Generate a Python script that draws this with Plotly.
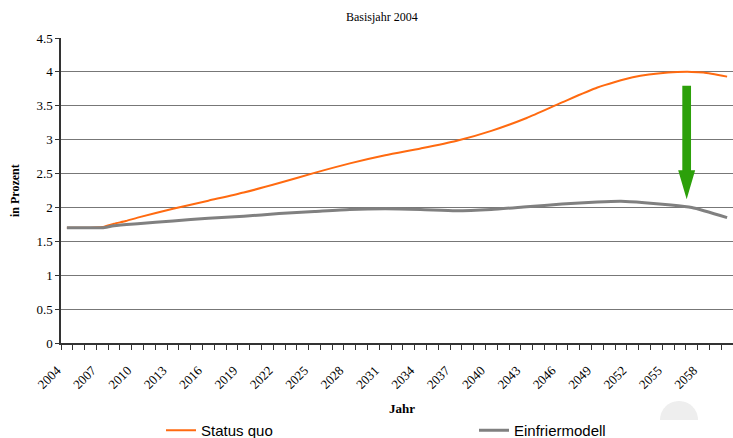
import numpy as np
import plotly.graph_objects as go

years_sq = [2004, 2006, 2007, 2008, 2009, 2010, 2013, 2016, 2019, 2022, 2025, 2028, 2031, 2034, 2037,
            2040, 2043, 2046, 2049, 2052, 2055, 2057, 2058, 2060]
status_quo = [1.70, 1.70, 1.71, 1.76, 1.80, 1.85, 1.98, 2.10, 2.22, 2.36, 2.51, 2.65, 2.77, 2.87, 2.98,
              3.13, 3.32, 3.55, 3.77, 3.92, 3.99, 4.00, 3.99, 3.93]
years_ef = [2004, 2006, 2007, 2008, 2010, 2013, 2016, 2019, 2022, 2025, 2028, 2031, 2034, 2037,
            2040, 2043, 2046, 2049, 2051, 2053, 2055, 2057, 2060]
einfrier = [1.70, 1.70, 1.70, 1.73, 1.76, 1.80, 1.84, 1.87, 1.91, 1.94, 1.97, 1.98, 1.97, 1.95,
            1.97, 2.01, 2.05, 2.08, 2.09, 2.07, 2.04, 2.00, 1.85]
tick_years = list(range(2004, 2059, 3))

serif = "Liberation Serif"
fig = go.Figure()
fig.add_trace(go.Scatter(x=years_sq, y=status_quo, mode="lines", name="Status quo", legend="legend",
                         line=dict(color="#FF6A10", width=2, shape="spline", smoothing=0.6)))
fig.add_trace(go.Scatter(x=years_ef, y=einfrier, mode="lines", name="Einfriermodell", legend="legend2",
                         line=dict(color="#808080", width=3, shape="spline", smoothing=0.6)))

# green arrow
xc, hs, hh = 2056.57, 0.37, 0.72
arrow = (f"M {xc-hs},3.795 L {xc+hs},3.795 L {xc+hs},2.55 L {xc+hh},2.55 "
         f"L {xc},2.12 L {xc-hh},2.55 L {xc-hs},2.55 Z")
fig.add_shape(type="path", path=arrow, xref="x", yref="y", fillcolor="#2CA00A",
              line=dict(width=0))

# faint semicircle decoration
cx, cy, r = 679, 420, 19
th = np.linspace(0, np.pi, 40)
pts = [((cx + r*np.cos(t) - 61) / 672, (343 - (cy - r*np.sin(t))) / 305) for t in th]
p = "M " + " L ".join(f"{a:.4f},{b:.4f}" for a, b in pts) + " Z"
fig.add_shape(type="path", path=p, xref="paper", yref="paper", fillcolor="#EEEEEE",
              line=dict(width=0), layer="below")

fig.add_annotation(text="Basisjahr 2004", x=(382-61)/672, y=(343-17)/305, xref="paper", yref="paper",
                   xanchor="center", yanchor="middle",
                   showarrow=False, font=dict(family=serif, size=12, color="black"))
fig.add_annotation(text="<b>Jahr</b>", x=(402-61)/672, y=(343-408)/305, xref="paper", yref="paper",
                   xanchor="center", yanchor="middle",
                   showarrow=False, font=dict(family=serif, size=13, color="black"))
fig.add_annotation(text="<b>in Prozent</b>", x=(15-61)/672, y=(343-190)/305, xref="paper", yref="paper",
                   xanchor="center", yanchor="middle",
                   showarrow=False, textangle=-90, font=dict(family=serif, size=12, color="black"))

legfont = dict(family="Liberation Sans", size=15, color="black")
fig.update_layout(
    width=733, height=438,
    margin=dict(l=61, r=0, t=38, b=95, autoexpand=False),
    paper_bgcolor="white", plot_bgcolor="white",
    showlegend=True,
    legend=dict(orientation="h", x=(161-61)/672, y=-(414-343)/305, xanchor="left", yanchor="top",
                font=legfont, itemwidth=30),
    legend2=dict(orientation="h", x=(474-61)/672, y=-(414-343)/305, xanchor="left", yanchor="top",
                 font=legfont, itemwidth=30),
    xaxis=dict(range=[2003.5, 2060.5], tickmode="array", tickvals=tick_years,
               ticktext=[str(y) for y in tick_years], tickangle=-45, ticks="", automargin=False,
               ticklabelstandoff=13, ticklabelshift=-10,
               showgrid=False, showline=True, linecolor="#333", linewidth=1.5, zeroline=False,
               tickfont=dict(family=serif, size=13, color="black"),
               minor=dict(tickmode="linear", tick0=2003.5, dtick=1, ticks="outside", ticklen=5,
                          tickcolor="#333", showgrid=False)),
    yaxis=dict(range=[0, 4.5], tickmode="linear", tick0=0, dtick=0.5, ticks="outside", ticklen=4,
               tickcolor="#333", showgrid=True, gridcolor="#777", gridwidth=1, automargin=False,
               showline=True, linecolor="#333", linewidth=1.5, zeroline=False,
               tickfont=dict(family=serif, size=13, color="black")),
)
fig.write_html("out.html")
